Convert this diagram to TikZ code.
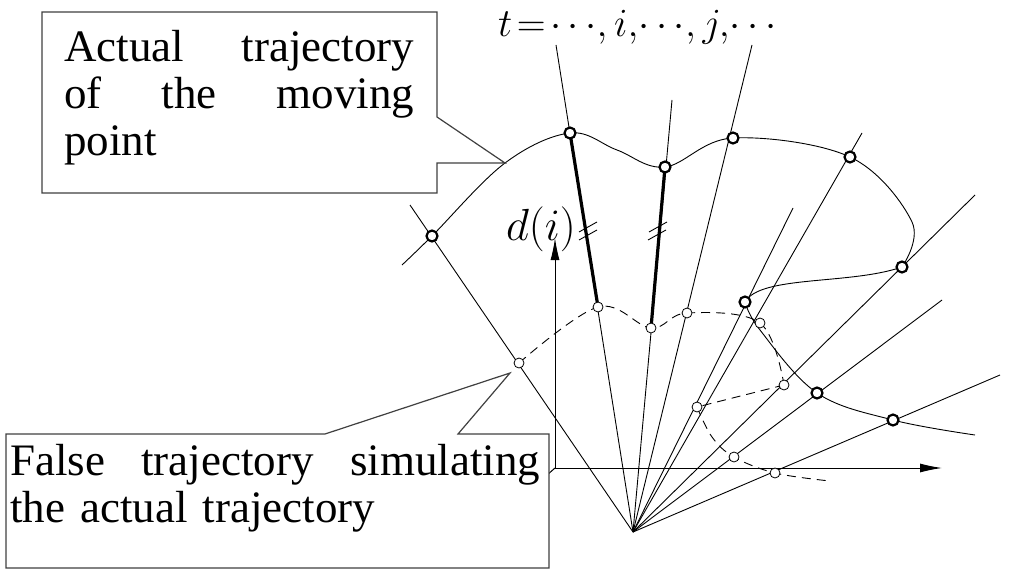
\RequirePackage{fix-cm}
\documentclass[tikz,border=0pt]{standalone}
\usepackage{fontspec}
\setmainfont{Liberation Serif}
\usetikzlibrary{arrows.meta}
\begin{document}
\begin{tikzpicture}[x=1pt,y=-1pt,
  ray/.style={line width=0.9pt},
  fp/.style={circle,draw,fill=white,inner sep=0pt,minimum size=10pt,line width=0.8pt},
  ap/.style={circle,draw,fill=white,inner sep=0pt,minimum size=11pt,line width=2.2pt},
  box/.style={line width=1.2pt,draw=black!75},
  ax/.style={line width=1pt,-{Latex[length=22pt,width=9pt]}},
  txt/.style={font=\fontsize{45}{47}\selectfont}]
\useasboundingbox (0,0) rectangle (1024,580);
% coordinates
\coordinate (O) at (633,532);
\coordinate (r1) at (410,205);
\coordinate (r2) at (556,45);
\coordinate (r3) at (672,100);
\coordinate (r4) at (752,45);
\coordinate (r5) at (793,208);
\coordinate (r6) at (862,133);
\coordinate (r7) at (975,195);
\coordinate (r8) at (942,300);
\coordinate (r9) at (1000,375);
% rays
\foreach \r in {r1,r2,r3,r4,r5,r6,r7,r8,r9} \draw[ray] (O) -- (\r);
% thick segments
\draw[line width=3.2pt] (570,133) -- (598,307);
\draw[line width=3.2pt] (665,167) -- (651,328);
\draw[line width=0.9pt] (579,232) -- (597,222) (579,240) -- (597,230);
\draw[line width=0.9pt] (649,232) -- (667,222) (648,240) -- (666,230);
% axes
\coordinate (A) at (555,468);
\coordinate (Ay) at (555,238);
\coordinate (Ax) at (942,468);
\coordinate (Ad) at (445,565);
\draw[ax] (A) -- (Ay);
\draw[ax] (A) -- (Ax);
\draw[ax] (A) -- (Ad);
% actual trajectory
\coordinate (c0) at (402,265);
\coordinate (c1) at (505,163);
\coordinate (c2) at (912,222);
\coordinate (c4) at (975,435);
\draw[line width=0.9pt] plot[smooth,tension=0.6] coordinates {(c0) (432,236) (c1) (570,133) (617,150) (665,167) (733,138) (850,157) (c2) (902,267)};
\draw[line width=0.9pt] (902,267) .. controls (850,285) and (760,275) .. (745,302);
\draw[line width=0.9pt] plot[smooth,tension=0.6] coordinates {(745,302) (760,330) (817,393) (893,420) (c4)};
% false trajectory
\draw[line width=0.9pt,dash pattern=on 9pt off 6pt] plot[smooth,tension=0.6] coordinates {(519,363) (598,307) (651,328) (687,313) (760,323) (784,385)};
\draw[line width=0.9pt,dash pattern=on 9pt off 6pt] (784,385) -- (697,407);
\draw[line width=0.9pt,dash pattern=on 9pt off 6pt] plot[smooth,tension=0.6] coordinates {(697,407) (712,437) (734,457) (775,473) (830,481)};
% points
\foreach \n/\p in {f1/{519,363},f2/{598,307},f3/{651,328},f4/{687,313},f5/{760,323},f6/{784,385},f7/{697,407},f8/{734,457},f9/{775,473},f10/{536,489}}
  \node[fp] (\n) at (\p) {};
\foreach \n/\p in {a1/{432,236},a2/{570,133},a3/{665,167},a4/{733,138},a5/{850,157},a6/{902,267},a7/{745,302},a8/{817,393},a9/{893,420}}
  \node[ap] (\n) at (\p) {};
% labels
\node[txt,anchor=east,inner sep=0pt] (di) at (576,229) {$d(i)$};
\node[font=\fontsize{40}{42}\selectfont,anchor=west,inner sep=0pt] (tl) at (498,27) {$t\!=\!\cdots\!,i,\!\cdots\!,j,\!\cdots$};
% callouts
\coordinate (tip2) at (510,373);
\draw[box,fill=white] (42,12) -- (437,12) -- (437,117) -- (c1) -- (437,163) -- (437,193) -- (42,193) -- cycle;
\node[txt,text width=350pt,align=left,anchor=north west,inner sep=0pt] (t1) at (64,30) {Actual\hfill trajectory\\ of\hfill the\hfill moving\\ point};
\draw[box,fill=white] (6,434) -- (325,434) -- (tip2) -- (458,434) -- (549,434) -- (549,568) -- (6,568) -- cycle;
\node[txt,text width=530pt,align=left,anchor=north west,inner sep=0pt] (t2) at (10,444) {False\hfill trajectory\hfill simulating\\ the actual trajectory};
\end{tikzpicture}
\end{document}
